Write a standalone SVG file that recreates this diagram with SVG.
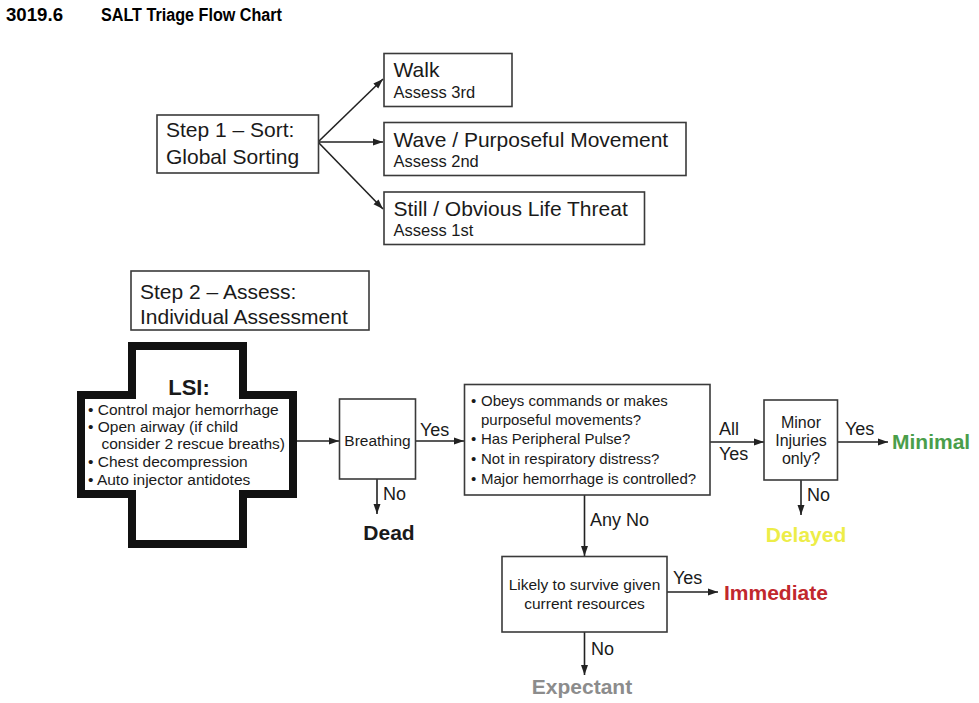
<svg xmlns="http://www.w3.org/2000/svg" width="979" height="703" viewBox="0 0 979 703">
<style>
text{font-family:"Liberation Sans",Arial,Helvetica,sans-serif;fill:#1a1a1a}
.t{font-family:"Liberation Sans",Arial,sans-serif;font-weight:bold;font-size:18px;fill:#000}
.box{fill:#fff;stroke:#3a3a3a;stroke-width:1.6}
.big{font-size:21px}
.sm{font-size:16.5px}
.bl{font-size:15.5px}
.mn{font-size:16px}
.lbl{font-size:18px}
.out{font-size:21px;font-weight:bold}
.c{text-anchor:middle}
.ln{fill:none;stroke:#222;stroke-width:1.6}
</style>
<defs>
<marker id="ah" markerUnits="userSpaceOnUse" markerWidth="11" markerHeight="8" refX="10" refY="4" orient="auto">
<path d="M0,0.5 L10,4 L0,7.5 z" fill="#222"/>
</marker>
</defs>
<rect width="979" height="703" fill="#fff"/>

<g id="title">
<text class="t" x="6" y="21" textLength="57" lengthAdjust="spacingAndGlyphs">3019.6</text>
<text class="t" x="101" y="21" textLength="181" lengthAdjust="spacingAndGlyphs">SALT Triage Flow Chart</text>
</g>

<g id="connectors">
<line class="ln" x1="318" y1="142" x2="383" y2="79" marker-end="url(#ah)"/>
<line class="ln" x1="318" y1="142" x2="383" y2="142" marker-end="url(#ah)"/>
<line class="ln" x1="318" y1="142" x2="383" y2="209" marker-end="url(#ah)"/>
<line class="ln" x1="297" y1="441" x2="339" y2="441" marker-end="url(#ah)"/>
<line class="ln" x1="415.5" y1="441" x2="464" y2="441" marker-end="url(#ah)"/>
<line class="ln" x1="377" y1="479" x2="377" y2="514" marker-end="url(#ah)"/>
<line class="ln" x1="710" y1="442" x2="764" y2="442" marker-end="url(#ah)"/>
<line class="ln" x1="837.5" y1="442" x2="888" y2="442" marker-end="url(#ah)"/>
<line class="ln" x1="801" y1="480" x2="801" y2="515" marker-end="url(#ah)"/>
<line class="ln" x1="584.5" y1="495" x2="584.5" y2="556" marker-end="url(#ah)"/>
<line class="ln" x1="667" y1="592" x2="718" y2="592" marker-end="url(#ah)"/>
<line class="ln" x1="584.5" y1="632" x2="584.5" y2="675" marker-end="url(#ah)"/>
<text class="lbl" x="420" y="436">Yes</text>
<text class="lbl" x="383" y="500">No</text>
<text class="lbl" x="719" y="435">All</text>
<text class="lbl" x="719" y="460">Yes</text>
<text class="lbl" x="845" y="435">Yes</text>
<text class="lbl" x="807" y="501">No</text>
<text class="lbl" x="590" y="526">Any No</text>
<text class="lbl" x="673" y="584">Yes</text>
<text class="lbl" x="591" y="655">No</text>
</g>

<g id="step1">
<rect class="box" x="157" y="115" width="161.5" height="58"/>
<text class="big" x="166" y="137">Step 1 – Sort:</text>
<text class="big" x="166" y="164">Global Sorting</text>
</g>

<g id="walk">
<rect class="box" x="384" y="53.5" width="128" height="53"/>
<text class="big" x="393.5" y="77">Walk</text>
<text class="sm" x="393.5" y="98">Assess 3rd</text>
</g>

<g id="wave">
<rect class="box" x="384" y="122.5" width="302" height="53"/>
<text class="big" x="393.5" y="147">Wave / Purposeful Movement</text>
<text class="sm" x="393.5" y="167">Assess 2nd</text>
</g>

<g id="still">
<rect class="box" x="384" y="192" width="260.5" height="52.5"/>
<text class="big" x="393.5" y="216">Still / Obvious Life Threat</text>
<text class="sm" x="393.5" y="236">Assess 1st</text>
</g>

<g id="step2">
<rect class="box" x="131" y="271" width="238" height="59"/>
<text class="big" x="140" y="299">Step 2 – Assess:</text>
<text class="big" x="140" y="324">Individual Assessment</text>
</g>

<g id="lsi">
<path d="M132,346 H243 V395 H293 V494 H243 V544 H132 V494 H81 V395 H132 Z" fill="#fff" stroke="#111" stroke-width="8" stroke-linejoin="miter"/>
<text x="189" y="395" class="c" style="font-size:22px;font-weight:bold">LSI:</text>
<g style="font-size:15.5px">
<text x="88" y="415">• Control major hemorrhage</text>
<text x="88" y="432">• Open airway (if child</text>
<text x="101.5" y="449">consider 2 rescue breaths)</text>
<text x="88" y="467">• Chest decompression</text>
<text x="88" y="485">• Auto injector antidotes</text>
</g>
</g>

<g id="breathing">
<rect class="box" x="339.5" y="399" width="76" height="80"/>
<text class="c" x="377.5" y="446" style="font-size:15.5px">Breathing</text>
</g>

<g id="dead">
<text class="out c" x="389" y="540" style="fill:#1a1a1a">Dead</text>
</g>

<g id="obeys">
<rect class="box" x="464.5" y="384.5" width="245.5" height="110.5"/>
<g style="font-size:15px">
<text x="471" y="405.5">•</text><text x="481" y="405.5">Obeys commands or makes</text>
<text x="481" y="424.5">purposeful movements?</text>
<text x="471" y="444">•</text><text x="481" y="444">Has Peripheral Pulse?</text>
<text x="471" y="464">•</text><text x="481" y="464">Not in respiratory distress?</text>
<text x="471" y="484">•</text><text x="481" y="484">Major hemorrhage is controlled?</text>
</g>
</g>

<g id="minor">
<rect class="box" x="764" y="400" width="73.5" height="80"/>
<text class="c mn" x="801" y="428">Minor</text>
<text class="c mn" x="801" y="446">Injuries</text>
<text class="c mn" x="801" y="464">only?</text>
</g>

<g id="minimal">
<text class="out" x="892" y="449" style="fill:#4a9e4a">Minimal</text>
</g>

<g id="delayed">
<text class="out c" x="806" y="542" style="fill:#eded48">Delayed</text>
</g>

<g id="likely">
<rect class="box" x="502" y="556.5" width="165" height="75.5"/>
<text class="c bl" x="584.5" y="590">Likely to survive given</text>
<text class="c bl" x="584.5" y="609">current resources</text>
</g>

<g id="immediate">
<text class="out" x="724" y="600" style="fill:#c1272d">Immediate</text>
</g>

<g id="expectant">
<text class="out c" x="582" y="694" style="fill:#8c8c8c">Expectant</text>
</g>
</svg>
